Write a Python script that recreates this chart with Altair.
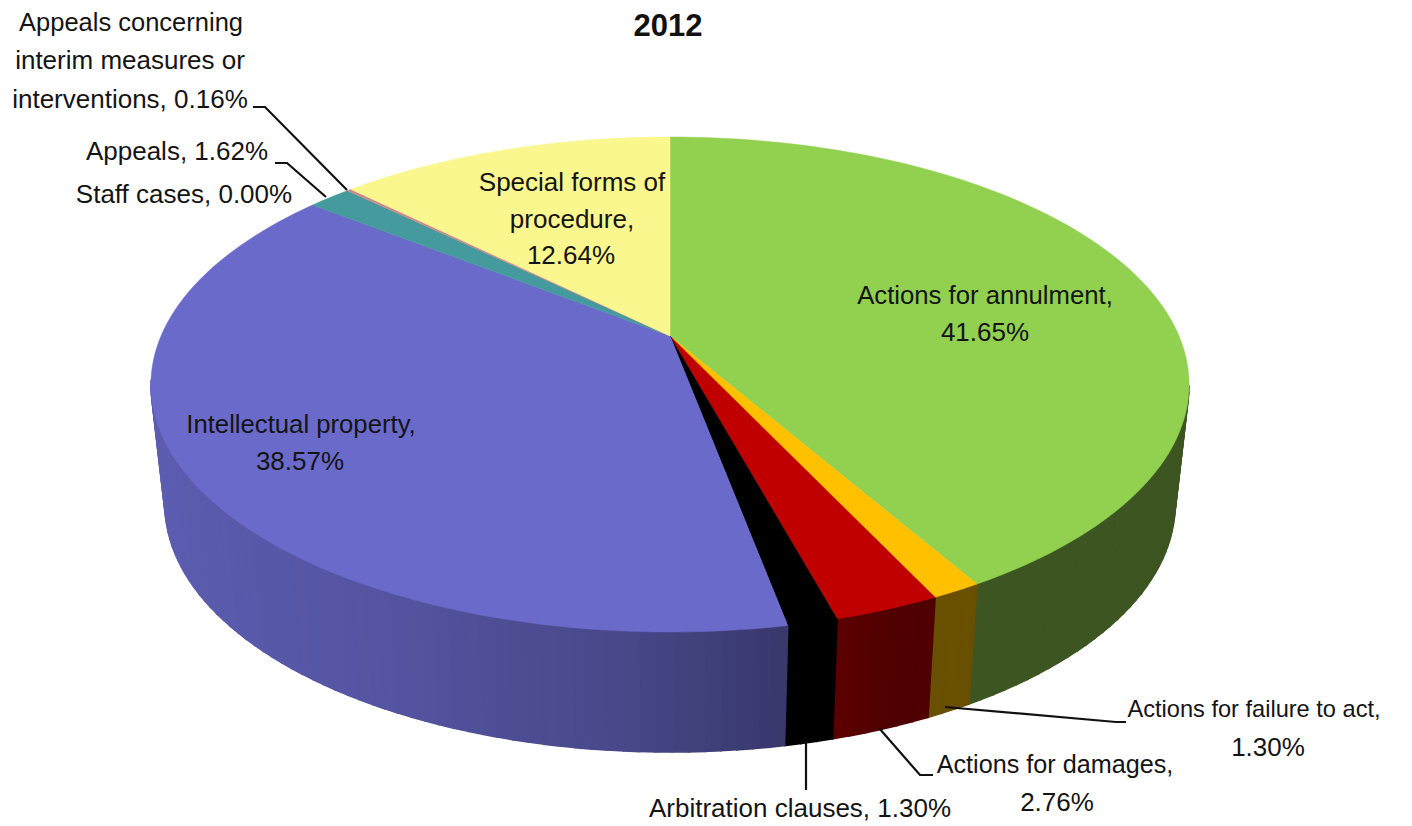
import math
import numpy as np
import altair as alt

categories = ["Actions for annulment", "Actions for failure to act", "Actions for damages",
              "Arbitration clauses", "Intellectual property", "Staff cases", "Appeals",
              "Appeals concerning interim measures or interventions", "Special forms of procedure"]
shares = [41.65, 1.30, 2.76, 1.30, 38.57, 0.00, 1.62, 0.16, 12.64]
top_colors = ["#92D050", "#FFC000", "#C00000", "#000000", "#6A6ACB", "#B0609A", "#449A9C", "#C98A8A", "#FBF78F"]

label_text = ["Appeals concerning", "interim measures or", "interventions, 0.16%",
              "Appeals, 1.62%", "Staff cases, 0.00%", "Special forms of", "procedure,", "12.64%",
              "Actions for annulment,", "41.65%", "Intellectual property,", "38.57%",
              "Actions for failure to act,", "1.30%", "Actions for damages,", "2.76%",
              "Arbitration clauses, 1.30%"]
label_x = [131, 130, 130, 177, 184, 572, 572, 571, 985, 985, 301, 300, 1254, 1268, 1055, 1057, 800]
label_y = [23, 61, 100, 152, 195, 183, 220, 256, 296, 333, 425, 462, 710, 748, 765, 803, 809]
label_size = [25.5, 26, 26, 26, 26, 26, 26, 26, 25.7, 26, 25.7, 26, 23.6, 26, 25.2, 26, 26]
title_text = ["2012"]
title_x = [668]
title_y = [27]

leader_paths = [[(253, 107), (265, 107), (347, 190)],
                [(275, 163), (287, 163), (326, 197)],
                [(945, 707), (1116, 722), (1126, 722)],
                [(879, 728), (920, 775), (933, 775)],
                [(806, 742), (806, 790)]]

CX, CY, A, B, Q = 670.0, 336.0, 509.0, 238.0, 0.196
BOTTOM_SCALE, BOTTOM_SHIFT = 0.973, 120.0


def top_point(deg):
    t = math.radians(deg)
    u, v = math.sin(t), -math.cos(t)
    d = 1 - Q * v
    return (A * u / d, B * v / d)


def abs_top(deg):
    x, y = top_point(deg)
    return [CX + x, CY + y]


def abs_bottom(deg):
    x, y = top_point(deg)
    return [CX + BOTTOM_SCALE * x, CY + y + BOTTOM_SHIFT]


def shade(hex_color, deg):
    x = top_point(deg)[0] / 519.0
    f = float(np.interp(x, [-1, -0.5, -0.1, 0.2, 0.45, 1], [0.87, 0.78, 0.68, 0.54, 0.41, 0.41]))
    c = [int(hex_color[i:i + 2], 16) for i in (1, 3, 5)]
    return "#%02x%02x%02x" % tuple(int(round(k * f)) for k in c)


def feature(coords, color):
    return {"type": "Feature", "properties": {"col": color},
            "geometry": {"type": "Polygon", "coordinates": [coords]}}


walls, tops = [], []
start = 0.0
for share, color in zip(shares, top_colors):
    span = share * 3.6
    end = start + span
    if span > 0:
        n = max(2, int(span / 1.5) + 1)
        angs = np.linspace(start, end, n)
        for a0, a1 in zip(angs[:-1], angs[1:]):
            if 100 < a0 and a1 < 260:
                walls.append(feature([abs_top(a0), abs_top(a1), abs_bottom(a1), abs_bottom(a0), abs_top(a0)],
                                     shade(color, (a0 + a1) / 2)))
        ring = [[CX, CY]] + [abs_top(a) for a in angs] + [[CX, CY]]
        tops.append(feature(ring, color))
    start = end

projection = dict(type="identity", scale=1, translate=[-8, -8])


def shapes(features, width):
    return alt.Chart(alt.Data(values=features)).mark_geoshape(strokeWidth=width).encode(
        fill=alt.Color("properties.col:N", scale=None, legend=None),
        stroke=alt.Color("properties.col:N", scale=None, legend=None),
    ).project(**projection)


leaders = [{"type": "Feature", "properties": {"id": i},
            "geometry": {"type": "LineString", "coordinates": [list(p) for p in path]}}
           for i, path in enumerate(leader_paths)]
leader_layer = alt.Chart(alt.Data(values=leaders)).mark_geoshape(
    filled=False, stroke="#111111", strokeWidth=2.2
).project(**projection)

body_rows = [{"t": t, "x": x, "y": y, "s": s}
             for t, x, y, s in zip(label_text, label_x, label_y, label_size)]
title_rows = [{"t": t, "x": x, "y": y} for t, x, y in zip(title_text, title_x, title_y)]
text_layer = alt.Chart(alt.Data(values=body_rows)).mark_text(
    font="Liberation Sans", align="center", baseline="middle", color="#141414"
).encode(
    longitude="x:Q", latitude="y:Q", text="t:N",
    size=alt.Size("s:Q", scale=None, legend=None),
).project(**projection)
title_layer = alt.Chart(alt.Data(values=title_rows)).mark_text(
    font="Liberation Sans", fontSize=31, fontWeight="bold", align="center", baseline="middle", color="#111111"
).encode(longitude="x:Q", latitude="y:Q", text="t:N").project(**projection)

chart = alt.layer(shapes(walls, 1.6), shapes(tops, 0.5), leader_layer, text_layer, title_layer).properties(
    width=1396, height=815, padding=0, autosize=alt.AutoSizeParams(type="none"), background="white"
).configure_view(stroke=None)

chart.save("out.html", embed_options={"renderer": "svg", "actions": False})
